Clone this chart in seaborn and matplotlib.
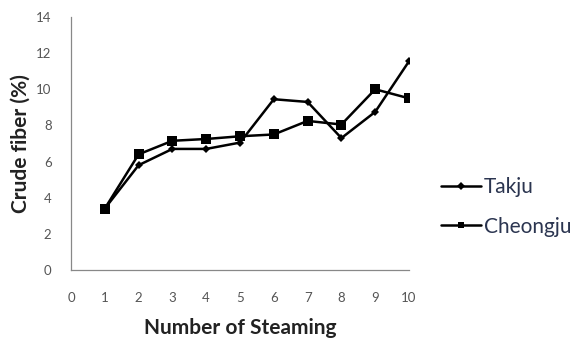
import matplotlib
matplotlib.use("Agg")
import matplotlib.pyplot as plt
import numpy as np
import pandas as pd
import seaborn as sns

steaming = [1, 2, 3, 4, 5, 6, 7, 8, 9, 10]
takju = [3.4, 5.8, 6.7, 6.7, 7.05, 9.45, 9.3, 7.3, 8.75, 11.55]
cheongju = [3.4, 6.4, 7.15, 7.25, 7.4, 7.5, 8.25, 8.05, 10.0, 9.5]
series_names = ['Takju', 'Cheongju']
x_ticks = list(range(0, 11))
y_ticks = list(range(0, 15, 2))

df = pd.DataFrame({
    'steaming': steaming * 2,
    'fiber': takju + cheongju,
    'series': [series_names[0]] * len(steaming) + [series_names[1]] * len(steaming),
})

sns.set_style('white')
plt.rcParams['font.family'] = ['Lato', 'DejaVu Sans']

fig = plt.figure(figsize=(5.75, 3.39), dpi=100)
ax = fig.add_axes([71 / 575, 1 - 270 / 339, (409 - 71) / 575, (270 - 17) / 339])

sns.lineplot(data=df, x='steaming', y='fiber', hue='series', style='series',
             palette=['black', 'black'], markers={'Takju': 'D', 'Cheongju': 's'},
             dashes=False, linewidth=1.8, markersize=5, markeredgewidth=0,
             ax=ax)
for line in ax.lines:
    if line.get_marker() == 'D':
        line.set_markersize(4)
    else:
        line.set_markersize(7)

ax.set_xlim(0, 10)
ax.set_ylim(0, 14)
ax.set_xticks(x_ticks)
ax.set_yticks(y_ticks)
ax.tick_params(axis='both', labelsize=9.5, colors='#555555', length=4, width=0.8,
               direction='in')
ax.tick_params(axis='x', pad=12, direction='out')
ax.tick_params(axis='y', pad=14)
for lbl in ax.get_xticklabels() + ax.get_yticklabels():
    lbl.set_color('#555555')

for side in ['top', 'right']:
    ax.spines[side].set_visible(False)
for side in ['left', 'bottom']:
    ax.spines[side].set_color('#888888')
    ax.spines[side].set_linewidth(0.9)

ax.set_xlabel('Number of Steaming', fontsize=15, fontweight='bold', color='#222222', labelpad=10)
ax.set_ylabel('Crude fiber (%)', fontsize=15, fontweight='bold', color='#222222', labelpad=4)

leg = ax.legend(loc='center left', bbox_to_anchor=(1.04, 0.25), frameon=False,
                fontsize=15, labelspacing=0.95, handlelength=1.9, handletextpad=0.15)
for txt in leg.get_texts():
    txt.set_color('#2b3550')
for h in leg.get_lines():
    h.set_markersize(4 if h.get_marker() == 'D' else 5)
    h.set_linewidth(1.8)

fig.savefig('out.png', dpi=100)
